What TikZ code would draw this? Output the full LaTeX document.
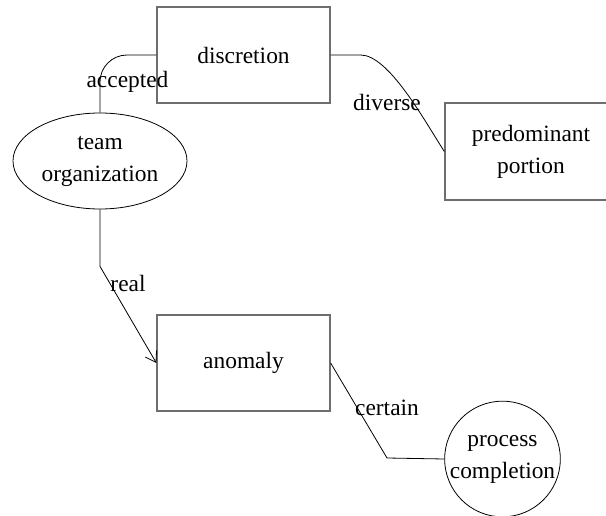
\documentclass[tikz,border=0pt]{standalone}
\usepackage{fontspec}
\setmainfont{Liberation Serif}
\usetikzlibrary{shapes.geometric,arrows.meta}
\begin{document}
\begin{tikzpicture}[x=1pt,y=-1pt,
  box/.style={draw=EdgeGray, line width=1.3pt, rectangle, minimum width=173pt, minimum height=96pt, align=center, font=\fontsize{23.4}{32}\selectfont},
  oval/.style={draw=black, line width=0.8pt, ellipse, minimum width=174pt, minimum height=96pt, inner sep=0pt, align=center, font=\fontsize{23.4}{32}\selectfont},
  ring/.style={draw=black, line width=0.8pt, circle, minimum size=115pt, inner sep=0pt, align=center, font=\fontsize{23.4}{32}\selectfont},
  conn/.style={draw=black, line width=0.8pt},
  lbl/.style={inner sep=0pt, font=\fontsize{23.4}{32}\selectfont}]
\definecolor{EdgeGray}{HTML}{6E6E6E}
\useasboundingbox (0,0) rectangle (606,516);
% nodes
\node[box] (discretion) at (243.5,55) {discretion};
\node[oval] (team) at (100,161) {team\\organization};
\node[box, minimum width=172pt, minimum height=97pt] (predominant) at (531,151.5) {predominant\\portion};
\node[box] (anomaly) at (243.5,363) {anomaly};
\node[ring] (process) at (502.5,459) {process\\completion};
% connectors
\draw[conn, rounded corners=27pt] (discretion.west) -| (team.north);
\node[lbl] (accepted) at (127.5,82) {accepted};
\draw[conn] (discretion.east) -- ++(30,0) .. controls +(28,0) and +(-20,-31) .. (predominant.west);
\node[lbl] (diverse) at (387,102) {diverse};
\draw[conn, -{Straight Barb[length=10pt,width=13pt]}] (team.south) -- ++(0,57) -- (anomaly.west);
\node[lbl] (real) at (128,283) {real};
\draw[conn] (anomaly.east) -- (387,458) -- (process.west);
\node[lbl] (certain) at (387,408) {certain};
\end{tikzpicture}
\end{document}
